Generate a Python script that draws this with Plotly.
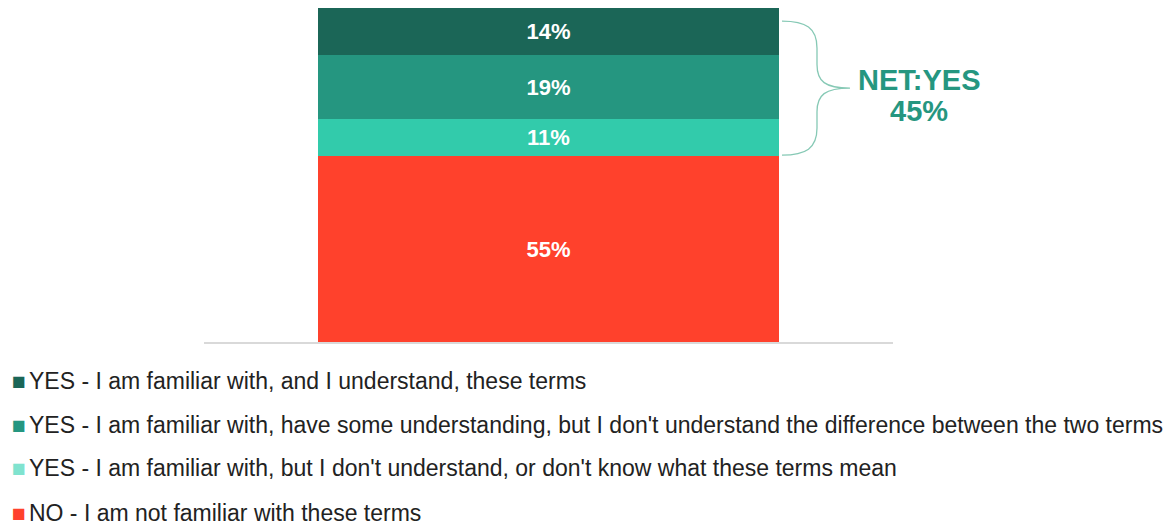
import plotly.graph_objects as go

# Survey responses: familiarity with the terms (percent of respondents), bottom to top
categories = [
    "NO - I am not familiar with these terms",
    "YES - I am familiar with, but I don't understand, or don't know what these terms mean",
    "YES - I am familiar with, have some understanding, but I don't understand the difference between the two terms",
    "YES - I am familiar with, and I understand, these terms",
]
values = [55, 11, 19, 14]
colors = ["#ff412c", "#32cbab", "#259680", "#1b6657"]
legend_colors = ["#ff412c", "#80e3cf", "#259680", "#1b6657"]
net_label = "NET:YES"
net_value = 45

W, H = 1176, 526
ML, MR, MT, MB = 204, 283, 8, 184
PW, PH = W - ML - MR, H - MT - MB
Y_MAX = 99
FONT = "Liberation Sans, Arial"


def px_x(px):
    return (px - ML) / PW


def px_y(py):
    return (H - MB - py) / PH


fig = go.Figure()
for cat, val, col in zip(categories, values, colors):
    fig.add_trace(go.Bar(
        x=["All"], y=[val], name=cat,
        marker=dict(color=col, line=dict(width=0)),
        text=[f"{val}%"], textposition="inside", insidetextanchor="middle",
        textangle=0, constraintext="none",
        textfont=dict(color="white", size=22, family=FONT, weight="bold"),
        width=0.669, showlegend=False,
    ))

# curly brace spanning the YES segments
yes_total = sum(values[1:])
top = values[0] + yes_total - 3.9
bot = values[0] + 0.4
mid = (top + bot) / 2
xa, xb, xc = px_x(782), px_x(817), px_x(850)
d = px_x(790) - px_x(782)
path = (
    f"M {xa},{top} C {xa+3*d},{top} {xb},{top-2} {xb},{top-8} "
    f"L {xb},{mid+7} C {xb},{mid+2} {xb+d},{mid} {xc},{mid} "
    f"C {xb+d},{mid} {xb},{mid-2} {xb},{mid-7} "
    f"L {xb},{bot+8} C {xb},{bot+2} {xa+3*d},{bot} {xa},{bot}"
)
fig.add_shape(type="path", path=path, xref="paper", yref="y",
              line=dict(color="#86c9b5", width=1.3))

for text, py in [(net_label, 80), (f"{net_value}%", 111)]:
    fig.add_annotation(
        x=px_x(919), y=px_y(py), xref="paper", yref="paper",
        xanchor="center", yanchor="middle", text=text, showarrow=False,
        font=dict(color="#259680", size=29, family=FONT, weight="bold"),
    )

# legend rows, top to bottom
row_y = [381, 425, 468, 513]
for py, cat, lcol in zip(row_y, categories[::-1], legend_colors[::-1]):
    fig.add_annotation(
        x=px_x(10), y=px_y(py), xref="paper", yref="paper",
        xanchor="left", yanchor="middle", showarrow=False, align="left",
        text=f"<span style='color:{lcol}'>■</span><span style='font-size:11px'> </span>{cat}",
        font=dict(size=23, family=FONT, color="#222222"),
    )

fig.update_layout(
    barmode="stack",
    width=W, height=H,
    margin=dict(l=ML, r=MR, t=MT, b=MB),
    paper_bgcolor="white", plot_bgcolor="white",
    showlegend=False,
    xaxis=dict(showticklabels=False, showgrid=False, zeroline=False,
               showline=True, linecolor="#d9d9d9", linewidth=2),
    yaxis=dict(range=[0, Y_MAX], visible=False, showgrid=False, zeroline=False),
    bargap=0,
    uniformtext=dict(minsize=8, mode="show"),
)

fig.write_html("out.html")
